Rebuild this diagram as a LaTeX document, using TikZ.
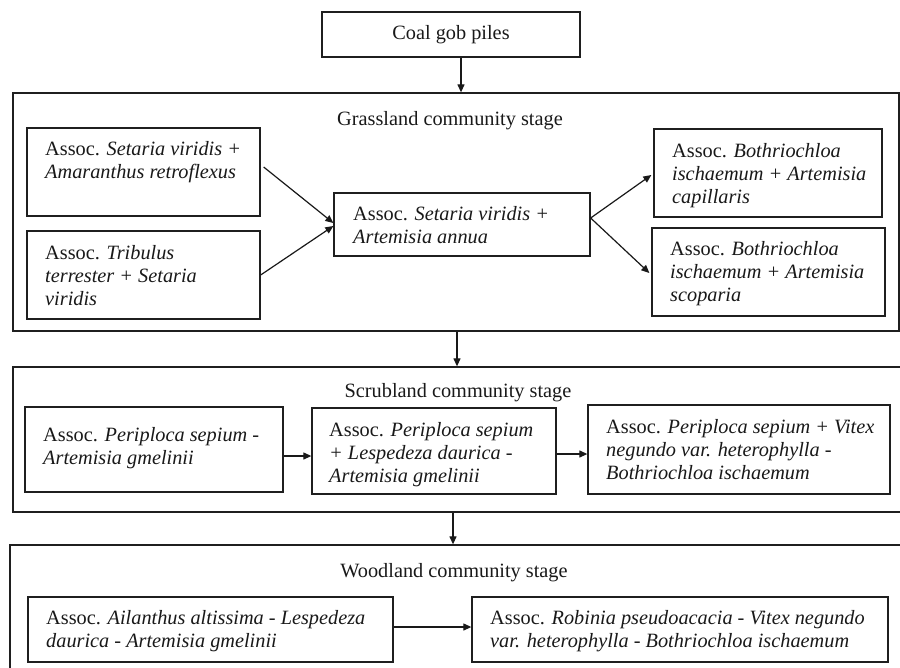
\documentclass[tikz,border=0pt]{standalone}
\usepackage{fontspec}
\setmainfont{Liberation Serif}
\usetikzlibrary{arrows.meta}
\begin{document}
\begin{tikzpicture}[x=1pt,y=-1pt,
  every node/.style={font=\fontsize{20.3}{23}\selectfont, text=black!90},
  box/.style={draw=black!88, line width=1.3pt, rectangle, inner sep=0pt},
  txt/.style={inner sep=0pt, align=left, anchor=base west},
  ttl/.style={inner sep=0pt, anchor=base},
  arr/.style={draw=black!90, line width=1.2pt, -{Triangle[length=8pt,width=7pt]}}]
\useasboundingbox (0,0) rectangle (900,667);
\clip (0,0) rectangle (900,667);
\fill[white] (0,0) rectangle (900,667);
% top
\node[box, minimum width=258pt, minimum height=45pt] (coal) at (451,34.5) {Coal gob piles};
% stage boxes
\node[box, minimum width=886pt, minimum height=238pt] (grass) at (456,212) {};
\node[box, minimum width=892pt, minimum height=145pt] (scrub) at (459,439.5) {};
\node[box, minimum width=895pt, minimum height=155pt] (wood) at (457.5,622.5) {};
\node[ttl] (grasst) at (450,125) {Grassland community stage};
\node[ttl] (scrubt) at (458,397) {Scrubland community stage};
\node[ttl] (woodt) at (454,577) {Woodland community stage};
% grassland
\node[box, minimum width=233pt, minimum height=88pt] (a1) at (143.5,172) {};
\node[box, minimum width=233pt, minimum height=88pt] (a2) at (143.5,275) {};
\node[box, minimum width=256pt, minimum height=63pt] (b) at (462,224.5) {};
\node[box, minimum width=228pt, minimum height=88pt] (c1) at (768,173) {};
\node[box, minimum width=233pt, minimum height=88pt] (c2) at (768.5,272) {};
\node[txt] (a1t) at (45,178) {Assoc. \textit{Setaria viridis +}\\\textit{Amaranthus retroflexus}};
\node[txt] (a2t) at (45,305) {Assoc. \textit{Tribulus}\\\textit{terrester + Setaria}\\\textit{viridis}};
\node[txt] (bt) at (353,243) {Assoc. \textit{Setaria viridis +}\\\textit{Artemisia annua}};
\node[txt] (c1t) at (672,203) {Assoc. \textit{Bothriochloa}\\\textit{ischaemum + Artemisia}\\\textit{capillaris}};
\node[txt] (c2t) at (670,301) {Assoc. \textit{Bothriochloa}\\\textit{ischaemum + Artemisia}\\\textit{scoparia}};
% scrubland
\node[box, minimum width=258pt, minimum height=85pt] (s1) at (154,449.5) {};
\node[box, minimum width=244pt, minimum height=86pt] (s2) at (434,451) {};
\node[box, minimum width=302pt, minimum height=89pt] (s3) at (739,449.5) {};
\node[txt] (s1t) at (43,464) {Assoc. \textit{Periploca sepium -}\\\textit{Artemisia gmelinii}};
\node[txt] (s2t) at (329,482) {Assoc. \textit{Periploca sepium}\\\textit{+ Lespedeza daurica -}\\\textit{Artemisia gmelinii}};
\node[txt] (s3t) at (606,479) {Assoc. \textit{Periploca sepium + Vitex}\\\textit{negundo var. heterophylla -}\\\textit{Bothriochloa ischaemum}};
% woodland
\node[box, minimum width=365pt, minimum height=65pt] (w1) at (210.5,629.5) {};
\node[box, minimum width=416pt, minimum height=65pt] (w2) at (680,629.5) {};
\node[txt] (w1t) at (46,647) {Assoc. \textit{Ailanthus altissima - Lespedeza}\\\textit{daurica - Artemisia gmelinii}};
\node[txt] (w2t) at (490,647) {Assoc. \textit{Robinia pseudoacacia - Vitex negundo}\\\textit{var. heterophylla - Bothriochloa ischaemum}};
% connectors
\draw[arr] ([xshift=10pt]coal.south) -- ([xshift=10pt]coal.south |- grass.north);
\draw[arr] ([xshift=3pt,yshift=5pt]a1.east) -- ([yshift=1.5pt]b.west);
\draw[arr] (a2.east) -- ([yshift=-1.5pt]b.west);
\draw[arr] ([yshift=6.5pt]b.east) -- ([xshift=-2pt,yshift=-2pt]c1.west);
\draw[arr] ([yshift=6.5pt]b.east) -- ([xshift=-2pt,yshift=-1pt]c2.west);
\draw[arr] ([xshift=1pt]grass.south) -- ([xshift=1pt]grass.south |- scrub.north);
\draw[arr] ([yshift=-6.5pt]s1.east) -- ([yshift=-6.5pt]s1.east -| s2.west);
\draw[arr] ([yshift=-3pt]s2.east) -- ([yshift=-3pt]s2.east -| s3.west);
\draw[arr] ([xshift=-6pt]scrub.south) -- ([xshift=-6pt]scrub.south |- wood.north);
\draw[arr] ([yshift=2.5pt]w1.east) -- ([yshift=2.5pt]w1.east -| w2.west);
\end{tikzpicture}
\end{document}
